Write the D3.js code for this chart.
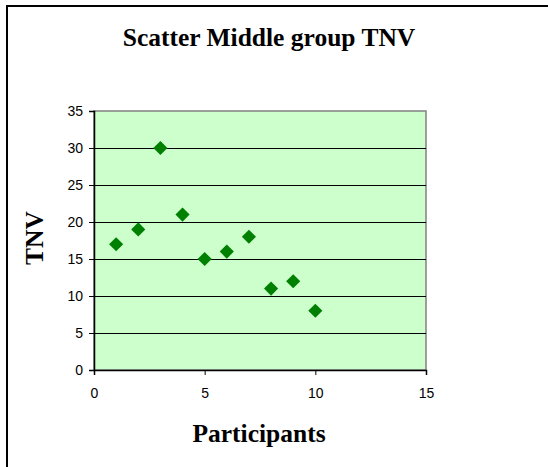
<!DOCTYPE html>
<html>
<head>
<meta charset="utf-8">
<script src="https://cdn.jsdelivr.net/npm/d3@7"></script>
<style>
  body { margin: 0; background: #fff; }
  svg { display: block; }
</style>
</head>
<body>
<svg id="chart" width="548" height="467"></svg>
<script>
// data
var participants = [1, 2, 3, 4, 5, 6, 7, 8, 9, 10];
var tnv = [17, 19, 30, 21, 15, 16, 18, 11, 12, 8];
var xTicks = [0, 5, 10, 15];
var yTicks = [0, 5, 10, 15, 20, 25, 30, 35];

var svg = d3.select("#chart");

// outer frame (right/bottom run off the picture)
svg.append("rect")
    .attr("x", 7).attr("y", 6)
    .attr("width", 560).attr("height", 480)
    .attr("fill", "#fff")
    .attr("stroke", "#000")
    .attr("stroke-width", 2);

var plotLeft = 94, plotRight = 426, plotTop = 111, plotBottom = 370;

var x = d3.scaleLinear().domain([0, 15]).range([plotLeft, plotRight]);
var y = d3.scaleLinear().domain([0, 35]).range([plotBottom, plotTop]);

// plot area
svg.append("rect")
    .attr("x", plotLeft).attr("y", plotTop)
    .attr("width", plotRight - plotLeft).attr("height", plotBottom - plotTop)
    .attr("fill", "#ccffcc")
    .attr("stroke", "#808080")
    .attr("stroke-width", 1.5);

// gridlines
svg.append("g").selectAll("line")
    .data(yTicks.filter(function (d) { return d > 0 && d < 35; }))
    .enter().append("line")
    .attr("x1", plotLeft).attr("x2", plotRight)
    .attr("y1", function (d) { return Math.round(y(d)) + 0.5; })
    .attr("y2", function (d) { return Math.round(y(d)) + 0.5; })
    .attr("stroke", "#000")
    .attr("stroke-width", 1);

// axes
var yAxis = svg.append("g")
    .attr("transform", "translate(" + plotLeft + ",0)")
    .call(d3.axisLeft(y).tickValues(yTicks).tickSize(5).tickPadding(6));
var xAxis = svg.append("g")
    .attr("transform", "translate(0," + plotBottom + ")")
    .call(d3.axisBottom(x).tickValues(xTicks).tickSize(5).tickPadding(13));

[xAxis, yAxis].forEach(function (a) {
    a.select(".domain").attr("stroke", "#000").attr("stroke-width", 1.5);
    a.selectAll(".tick line").attr("stroke", "#000");
    a.selectAll("text")
        .attr("font-family", "Liberation Sans, Arial, sans-serif")
        .attr("font-size", 14)
        .attr("fill", "#000");
});

// points
var diamond = d3.symbol().type(d3.symbolSquare).size(100);
svg.append("g").selectAll("path")
    .data(participants)
    .enter().append("path")
    .attr("d", diamond)
    .attr("transform", function (d, i) {
        return "translate(" + x(d) + "," + y(tnv[i]) + ") rotate(45)";
    })
    .attr("fill", "#008000");

// titles
svg.append("text")
    .attr("x", 269).attr("y", 46)
    .attr("text-anchor", "middle")
    .attr("font-family", "Liberation Serif, Times New Roman, serif")
    .attr("font-weight", "bold")
    .attr("font-size", 25.5)
    .text("Scatter Middle group TNV");

svg.append("text")
    .attr("x", 259).attr("y", 442)
    .attr("text-anchor", "middle")
    .attr("font-family", "Liberation Serif, Times New Roman, serif")
    .attr("font-weight", "bold")
    .attr("font-size", 25.5)
    .text("Participants");

svg.append("text")
    .attr("transform", "translate(43,238) rotate(-90)")
    .attr("text-anchor", "middle")
    .attr("font-family", "Liberation Serif, Times New Roman, serif")
    .attr("font-weight", "bold")
    .attr("font-size", 25.5)
    .text("TNV");
</script>
</body>
</html>
